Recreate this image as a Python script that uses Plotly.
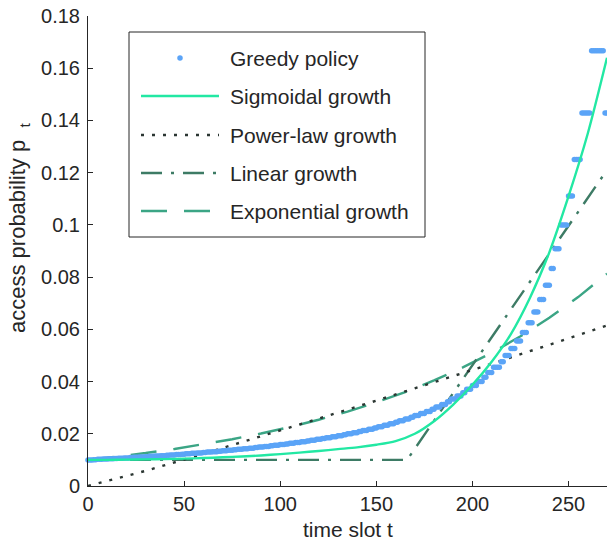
import plotly.graph_objects as go

# ---------------- data ----------------
# Greedy policy: access probability is 1/k; k = level denominator, held from its start slot
greedy_denominator = [100, 99, 98, 97, 96, 95, 94, 93, 92, 91, 90, 89, 88, 87, 86, 85, 84, 83, 82, 81,
                      80, 79, 78, 77, 76, 75, 74, 73, 72, 71, 70, 69, 68, 67, 66, 65, 64, 63, 62, 61,
                      60, 59, 58, 57, 56, 55, 54, 53, 52, 51, 50, 49, 48, 47, 46, 45, 44, 43, 42, 41,
                      40, 39, 38, 37, 36, 35, 34, 33, 32, 31, 30, 29, 28, 27, 26, 25, 24, 23, 22, 21,
                      20, 19, 18, 17, 16, 15, 14, 13, 12, 11, 10, 9, 8, 7, 6, 7]
greedy_start = [0, 3, 5, 8, 11, 14, 16, 19, 22, 24, 27, 30, 32, 35, 38, 41, 43, 46, 49, 51,
                54, 57, 60, 62, 65, 68, 70, 73, 76, 78, 81, 84, 87, 89, 92, 95, 97, 100, 103, 105,
                108, 111, 114, 116, 119, 122, 124, 127, 130, 133, 135, 138, 141, 143, 146, 149, 151, 154, 157, 160,
                162, 165, 168, 170, 173, 176, 179, 181, 184, 187, 189, 192, 195, 197, 200, 203, 206, 208, 211, 215,
                217, 220, 223, 226, 229, 232, 235, 238, 241, 243, 246, 250, 253, 257, 262, 269]
greedy_end = 270

sig_t = [0, 10, 20, 30, 40, 50, 60, 70, 80, 90, 100, 110, 120, 130, 140,
         150, 160, 170, 180, 190, 200, 210, 220, 230, 240, 250, 260, 270]
sig_p = [0.0100, 0.0100, 0.0101, 0.0102, 0.0103, 0.0105, 0.0107, 0.0110, 0.0113, 0.0117,
         0.0122, 0.0128, 0.0134, 0.0141, 0.0148, 0.0158, 0.0172, 0.0200, 0.0248, 0.0312,
         0.0388, 0.0476, 0.0582, 0.0722, 0.0895, 0.1110, 0.1350, 0.1640]

pow_t = [0, 30, 60, 90, 120, 150, 180, 210, 240, 270]
pow_p = [0.0, 0.0058, 0.0123, 0.0190, 0.0258, 0.0327, 0.0397, 0.0468, 0.0541, 0.0615]

lin_t = [0, 166, 270]
lin_p = [0.0100, 0.0100, 0.1210]

exp_t = [0, 15, 30, 45, 60, 75, 90, 105, 120, 135, 150, 165, 180, 195, 210, 225, 240, 255, 270]
exp_p = [0.01000, 0.01123, 0.01262, 0.01418, 0.01593, 0.01790, 0.02011, 0.02259, 0.02538, 0.02851,
         0.03203, 0.03598, 0.04043, 0.04542, 0.05103, 0.05732, 0.06440, 0.07235, 0.08128]

x_ticks = [0, 50, 100, 150, 200, 250]
y_ticks = [0, 0.02, 0.04, 0.06, 0.08, 0.10, 0.12, 0.14, 0.16, 0.18]
y_ticktext = ["0", "0.02", "0.04", "0.06", "0.08", "0.1", "0.12", "0.14", "0.16", "0.18"]

legend_names = ["Greedy policy", "Sigmoidal growth", "Power-law growth", "Linear growth", "Exponential growth"]

# ---------------- build greedy points ----------------
g_t, g_p = [], []
bounds = greedy_start[1:] + [greedy_end + 1]
for k, s, e in zip(greedy_denominator, greedy_start, bounds):
    for t in range(s, e):
        g_t.append(t)
        g_p.append(1.0 / k)

C_GREEDY = "#5ba4f7"
C_SIG = "#22e8a3"
C_POW = "#2b3632"
C_LIN = "#3d7b65"
C_EXP = "#3ba585"
C_TXT = "#262626"

DASH_POW = "3px,8px"
DASH_LIN = "21px,9px,3px,9px"
DASH_EXP = "26px,17px"
LW = 2.4
FONT = "Liberation Sans, Arial, sans-serif"

fig = go.Figure()
fig.add_trace(go.Scatter(x=exp_t, y=exp_p, mode="lines", name=legend_names[4],
                         line=dict(color=C_EXP, width=LW, dash=DASH_EXP)))
fig.add_trace(go.Scatter(x=lin_t, y=lin_p, mode="lines", name=legend_names[3],
                         line=dict(color=C_LIN, width=LW, dash=DASH_LIN)))
fig.add_trace(go.Scatter(x=pow_t, y=pow_p, mode="lines", name=legend_names[2],
                         line=dict(color=C_POW, width=LW, dash=DASH_POW)))
fig.add_trace(go.Scatter(x=g_t, y=g_p, mode="markers", name=legend_names[0], cliponaxis=False,
                         marker=dict(color=C_GREEDY, size=5.5, line=dict(width=0))))
fig.add_trace(go.Scatter(x=sig_t, y=sig_p, mode="lines", name=legend_names[1],
                         line=dict(color=C_SIG, width=LW, shape="spline", smoothing=0.8)))

# plot area in pixels
L, R, T, B = 88, 607, 16, 486
def px(x):
    return (x - L) / (R - L)
def py(y):
    return (B - y) / (B - T)

shapes = []
annotations = []
# legend box
shapes.append(dict(type="rect", xref="paper", yref="paper", x0=px(129), x1=px(425), y0=py(237), y1=py(32),
                   line=dict(color=C_TXT, width=1), fillcolor="white", layer="above"))
rows = [58, 96, 135, 173, 211]
styles = [None, ("solid", C_SIG), (DASH_POW, C_POW), (DASH_LIN, C_LIN), (DASH_EXP, C_EXP)]
for i, (yy, st) in enumerate(zip(rows, styles)):
    if st is None:
        shapes.append(dict(type="circle", xref="paper", yref="paper", xsizemode="pixel", ysizemode="pixel",
                           xanchor=px(180), yanchor=py(yy), x0=-2.75, x1=2.75, y0=-2.75, y1=2.75,
                           fillcolor=C_GREEDY, line=dict(width=0), layer="above"))
    else:
        shapes.append(dict(type="line", xref="paper", yref="paper", x0=px(141), x1=px(219), y0=py(yy), y1=py(yy),
                           line=dict(color=st[1], width=LW, dash=st[0]), layer="above"))
    annotations.append(dict(xref="paper", yref="paper", x=px(228), y=py(yy), text=legend_names[i],
                            showarrow=False, xanchor="left", yanchor="middle",
                            font=dict(family=FONT, size=21, color=C_TXT)))

# y axis title
annotations.append(dict(xref="paper", yref="paper", x=px(19), y=py(228),
                        text="access probability p&nbsp;&nbsp;<sub>t</sub>",
                        textangle=-90, showarrow=False, xanchor="center", yanchor="middle",
                        font=dict(family=FONT, size=22, color=C_TXT)))
# x axis title
annotations.append(dict(xref="paper", yref="paper", x=px(348), y=py(529), text="time slot t",
                        showarrow=False, xanchor="center", yanchor="middle",
                        font=dict(family=FONT, size=21, color=C_TXT)))

fig.update_layout(
    width=607, height=543,
    margin=dict(l=L, r=607 - R, t=T, b=543 - B),
    plot_bgcolor="white", paper_bgcolor="white",
    showlegend=False,
    font=dict(family=FONT, size=20, color=C_TXT),
    shapes=shapes, annotations=annotations,
    xaxis=dict(range=[0, 270], tickvals=x_ticks, ticks="inside", ticklen=5, tickcolor=C_TXT,
               showline=True, linecolor=C_TXT, linewidth=1, showgrid=False, zeroline=False,
               tickfont=dict(size=20), ticklabelstandoff=0),
    yaxis=dict(range=[0, 0.18], tickvals=y_ticks, ticktext=y_ticktext, ticks="inside", ticklen=5,
               tickcolor=C_TXT, showline=True, linecolor=C_TXT, linewidth=1,
               showgrid=False, zeroline=False, tickfont=dict(size=20), ticklabelstandoff=3),
)

fig.write_html("out.html")
